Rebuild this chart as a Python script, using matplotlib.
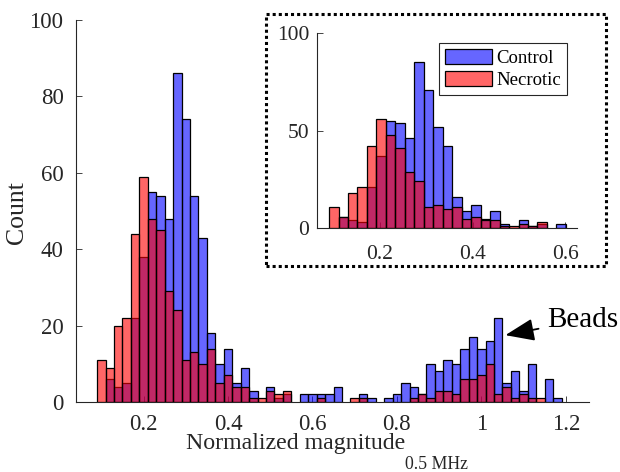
import numpy as np
import matplotlib
matplotlib.use("Agg")
import matplotlib.pyplot as plt
from matplotlib.patches import Rectangle, Patch

# ---------------- data ----------------
# main histogram: bins of width 0.02 starting at 0.09
main_start = 0.09
main_width = 0.02
control_main = [0, 6, 4, 5, 22, 38, 55, 54, 48, 86, 74, 54, 43, 18, 10, 14, 5, 9, 3,
                0, 4, 1, 2, 0, 2, 2, 2, 2, 4, 0, 0, 2, 1, 0, 1, 2, 5, 4, 2, 10,
                8, 11, 10, 14, 17, 14, 16, 22, 5, 8, 3, 10, 0, 6, 1]
necrotic_main = [11, 9, 20, 22, 44, 59, 48, 45, 29, 24, 11, 13, 10, 14, 5, 7, 4, 4, 1,
                 1, 3, 2, 3, 0, 0, 0, 1, 0, 0, 0, 1, 1, 0, 0, 0, 0, 0, 1, 2, 1,
                 3, 3, 2, 6, 6, 7, 10, 2, 4, 1, 2, 1, 1, 0, 0]

# inset histogram (cells only)
inset_start = 0.091
inset_width = 0.0204
control_inset = [0, 6, 4, 3, 21, 37, 55, 54, 46, 85, 71, 52, 42, 16, 9, 12, 5, 9, 2,
                 0, 4, 1, 2, 0, 2]
necrotic_inset = [11, 6, 18, 21, 42, 56, 48, 41, 29, 24, 11, 12, 10, 11, 5, 6, 4, 4, 1,
                  1, 2, 1, 3, 0, 0]

main_xticks = [0.2, 0.4, 0.6, 0.8, 1.0, 1.2]
main_xticklabels = ["0.2", "0.4", "0.6", "0.8", "1", "1.2"]
main_yticks = [0, 20, 40, 60, 80, 100]
inset_xticks = [0.2, 0.4, 0.6]
inset_xticklabels = ["0.2", "0.4", "0.6"]
inset_yticks = [0, 50, 100]
series_names = ["Control", "Necrotic"]

# ---------------- style ----------------
plt.rcParams["font.family"] = ["Liberation Serif", "DejaVu Serif"]

BLUE = (0.4, 0.4, 1.0)
RED = (1.0, 0.4, 0.4)
AX_COL = (0.15, 0.15, 0.15)


def draw_hist(ax, start, width, ctrl, nec):
    ctrl = np.asarray(ctrl, float)
    nec = np.asarray(nec, float)
    left = start + width * np.arange(len(ctrl))
    mc = ctrl > 0
    mn = nec > 0
    ax.bar(left[mc], ctrl[mc], width=width, align="edge",
           facecolor=(0, 0, 1, 0.6), edgecolor="black", linewidth=0.9, zorder=2)
    ax.bar(left[mn], nec[mn], width=width, align="edge",
           facecolor=(1, 0, 0, 0.6), edgecolor="black", linewidth=0.9, zorder=3)
    return left


def style_axes(ax, fs):
    for s in ["top", "right"]:
        ax.spines[s].set_visible(False)
    for s in ["left", "bottom"]:
        ax.spines[s].set_color(AX_COL)
        ax.spines[s].set_linewidth(0.8)
    ax.tick_params(direction="in", length=4, width=0.6, colors=AX_COL,
                   labelsize=fs, labelcolor=AX_COL)


fig = plt.figure(figsize=(6.2, 4.72), dpi=100)

# ---------------- main axes ----------------
ax = fig.add_axes([0.1226, 0.1483, 0.8274, 0.8093])
left = draw_hist(ax, main_start, main_width, control_main, necrotic_main)
ax.set_xlim(0.04, 1.255)
ax.set_ylim(0, 100)
ax.set_xticks(main_xticks)
ax.set_xticklabels(main_xticklabels)
ax.set_yticks(main_yticks)
style_axes(ax, 16.5)
ax.tick_params(axis="x", pad=8.5)
ax.tick_params(axis="y", pad=9)
ax.set_ylabel("Count", fontsize=18.5, color=AX_COL)
ax.yaxis.set_label_coords(-0.093, 0.495)

# x label with a lowered subscript
fig.text(186 / 620, 1 - 449 / 472, "Normalized magnitude", fontsize=17.2,
         color=AX_COL, ha="left", va="baseline")
fig.text(405 / 620, 1 - 469 / 472, "0.5 MHz", fontsize=12.8,
         color=AX_COL, ha="left", va="baseline")

# Beads annotation pointing at the tallest bead bar
cm = np.asarray(control_main)
bead_region = np.where(left > 0.8)[0]
bi = bead_region[np.argmax(cm[bead_region])]
tip_x = left[bi] + main_width * 1.35
tip_y = cm[bi] - 4.5
ax.annotate("Beads", xy=(tip_x, tip_y), xytext=(tip_x + 0.098, tip_y + 3.9),
            fontsize=21, color="black", ha="left", va="center",
            arrowprops=dict(arrowstyle="-|>,head_length=0.85,head_width=0.33",
                            color="black", lw=1.3, shrinkA=4, shrinkB=0))

# ---------------- inset ----------------
frame = Rectangle((0.4298, 0.4354), 0.5476, 0.535, transform=fig.transFigure,
                  fill=True, facecolor="white", edgecolor="black",
                  linestyle=(0, (1, 1)), linewidth=2.2, zorder=5)
fig.patches.append(frame)

ins = fig.add_axes([0.512, 0.5163, 0.4187, 0.4138], zorder=10)
ins.patch.set_alpha(0)
draw_hist(ins, inset_start, inset_width, control_inset, necrotic_inset)
ins.set_xlim(0.066, 0.625)
ins.set_ylim(0, 100)
ins.set_xticks(inset_xticks)
ins.set_xticklabels(inset_xticklabels)
ins.set_yticks(inset_yticks)
style_axes(ins, 15.5)
ins.tick_params(axis="x", pad=12)
ins.tick_params(axis="y", pad=6)

handles = [Patch(facecolor=BLUE, edgecolor="black", linewidth=0.9),
           Patch(facecolor=RED, edgecolor="black", linewidth=0.9)]
leg = ins.legend(handles, series_names, loc="upper right",
                 bbox_to_anchor=(0.9615, 0.9488), borderaxespad=0,
                 fontsize=13.5, fancybox=False, framealpha=1,
                 edgecolor=AX_COL, handlelength=2.5, handleheight=0.85,
                 handletextpad=0.25, borderpad=0.3, labelspacing=0.25)
leg.get_frame().set_linewidth(0.8)

fig.savefig("out.png", dpi=100)
